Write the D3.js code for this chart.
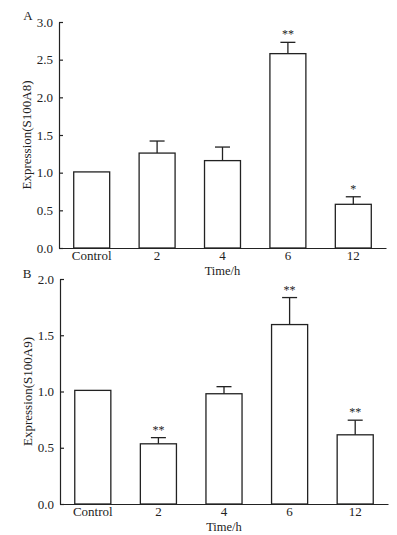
<!DOCTYPE html>
<html><head><meta charset="utf-8">
<script src="https://cdn.jsdelivr.net/npm/d3@7/dist/d3.min.js"></script>
<style>body{margin:0;background:#fff;} text{font-family:"Liberation Serif","Times New Roman",serif;fill:#222;}</style>
</head><body>
<svg id="c" width="397" height="535"></svg>
<script>
const categories = ["Control","2","4","6","12"];
const valuesA = [1.01, 1.26, 1.16, 2.58, 0.58];
const errorsA = [0, 0.16, 0.18, 0.15, 0.10];
const sigA = ["", "", "", "**", "*"];
const valuesB = [1.01, 0.535, 0.98, 1.595, 0.615];
const errorsB = [0, 0.055, 0.063, 0.24, 0.13];
const sigB = ["", "**", "", "**", "**"];
const ticksA = [0, 0.5, 1.0, 1.5, 2.0, 2.5, 3.0];
const ticksB = [0, 0.5, 1.0, 1.5, 2.0];

const svg = d3.select("#c");

function panel(cfg) {
  const g = svg.append("g");
  const x = d3.scaleBand().domain(categories).range([cfg.x0, cfg.x1]).paddingInner(0.45).paddingOuter(0.225);
  const y = d3.scaleLinear().domain([0, cfg.max]).range([cfg.y0, cfg.y1]);
  g.selectAll("rect.bar").data(cfg.values).enter().append("rect")
    .attr("x", (d,i)=>x(categories[i])).attr("width", x.bandwidth())
    .attr("y", d=>y(d)).attr("height", d=>y(0)-y(d))
    .attr("fill","#fff").attr("stroke","#222").attr("stroke-width",1.3);
  cfg.values.forEach((v,i)=>{
    const e = cfg.errors[i];
    const cx = x(categories[i]) + x.bandwidth()/2;
    if (e > 0) {
      g.append("line").attr("x1",cx).attr("x2",cx).attr("y1",y(v)).attr("y2",y(v+e)).attr("stroke","#222").attr("stroke-width",1.3);
      g.append("line").attr("x1",cx-7.5).attr("x2",cx+7.5).attr("y1",y(v+e)).attr("y2",y(v+e)).attr("stroke","#222").attr("stroke-width",1.3);
    }
    if (cfg.sig[i]) {
      g.append("text").attr("x",cx).attr("y",y(v+e)-4).attr("text-anchor","middle")
        .attr("font-size",12).text(cfg.sig[i]);
    }
  });
  const ya = g.append("g").attr("transform",`translate(${cfg.x0},0)`)
    .call(d3.axisLeft(y).tickValues(cfg.ticks).tickFormat(d3.format(".1f")).tickSizeInner(-4).tickSizeOuter(0).tickPadding(6));
  ya.select(".domain").attr("stroke","#222").attr("stroke-width",1.2);
  ya.selectAll(".tick line").attr("stroke","#222").attr("stroke-width",1.2);
  ya.selectAll(".tick text").attr("font-size",13).attr("font-family","Liberation Serif").attr("fill","#222");
  const xa = g.append("g").attr("transform",`translate(0,${cfg.y0})`)
    .call(d3.axisBottom(x).tickSize(0).tickPadding(3));
  xa.select(".domain").attr("stroke","#222").attr("stroke-width",1.2);
  xa.selectAll(".tick text").attr("font-size",13).attr("font-family","Liberation Serif").attr("fill","#222");
  g.append("text").attr("x",(cfg.x0+cfg.x1)/2).attr("y",cfg.y0+27).attr("text-anchor","middle").attr("font-size",12.5).text("Time/h");
  g.append("text").attr("transform",`translate(${cfg.x0-28},${(cfg.y0+cfg.y1)/2}) rotate(-90)`)
    .attr("text-anchor","middle").attr("font-size",13).text(cfg.ylabel);
  g.append("text").attr("x",cfg.lx).attr("y",cfg.ly).attr("text-anchor","middle").attr("font-size",13).text(cfg.letter);
}

panel({x0:59, x1:386, y0:248, y1:22, max:3.0, values:valuesA, errors:errorsA, sig:sigA, ticks:ticksA,
  ylabel:"Expression(S100A8)", letter:"A", lx:28, ly:20});
panel({x0:60, x1:388, y0:504, y1:279, max:2.0, values:valuesB, errors:errorsB, sig:sigB, ticks:ticksB,
  ylabel:"Expression(S100A9)", letter:"B", lx:27, ly:278});
</script>
</body></html>
